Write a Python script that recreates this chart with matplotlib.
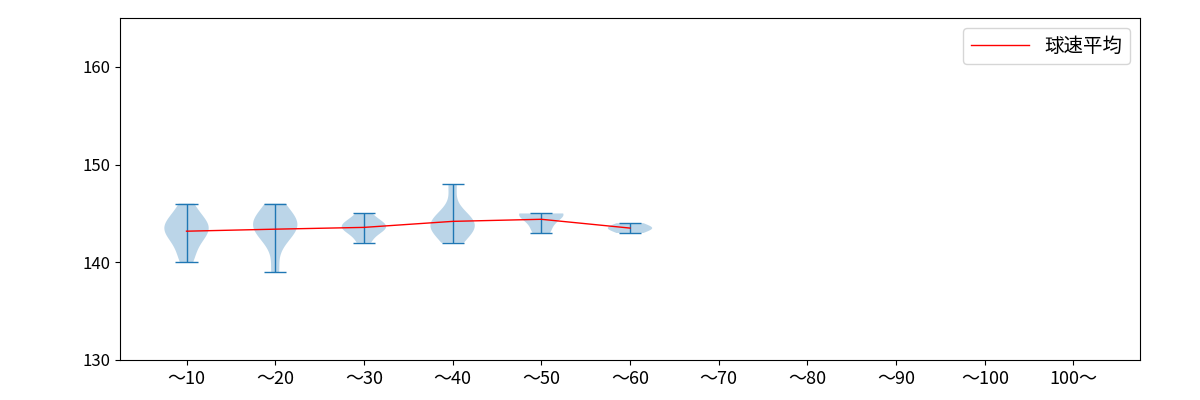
import matplotlib
matplotlib.use("Agg")
import matplotlib.pyplot as plt
import numpy as np

plt.rcParams['font.family'] = ['Noto Sans CJK JP', 'DejaVu Sans']

labels = ["～10", "～20", "～30", "～40", "～50", "～60", "～70", "～80", "～90", "～100", "100～"]
samples = [
    [140, 141, 142, 143, 143, 143, 144, 144, 144, 145, 146],
    [139, 142, 143, 143.5, 144, 144, 144, 145, 146],
    [142, 143, 143.5, 143.5, 144, 144, 145],
    [142, 143, 143.5, 144, 144, 144, 145, 148],
    [143, 144, 145, 145, 145],
    [143, 143.5, 143.5, 144],
]

fig = plt.figure(figsize=(12, 4), dpi=100)
ax = fig.add_axes([0.1, 0.1, 0.85, 0.855])
pos = list(range(1, len(samples) + 1))
parts = ax.violinplot(samples, positions=pos)
for k in ('cbars', 'cmins', 'cmaxes'):
    parts[k].set_linewidth(1)
means = [np.mean(s) for s in samples]
ax.plot(pos, means, color='red', lw=1, label='球速平均')
ax.set_xticks(range(1, len(labels) + 1))
ax.set_xticklabels(labels, fontsize=13)
ax.set_xlim(0.25, 11.75)
ax.set_ylim(130, 165)
ax.set_yticks([130, 140, 150, 160])
ax.tick_params(axis='y', labelsize=12)
ax.legend(loc='upper right', fontsize=14, handlelength=3)
fig.savefig("out.png")
